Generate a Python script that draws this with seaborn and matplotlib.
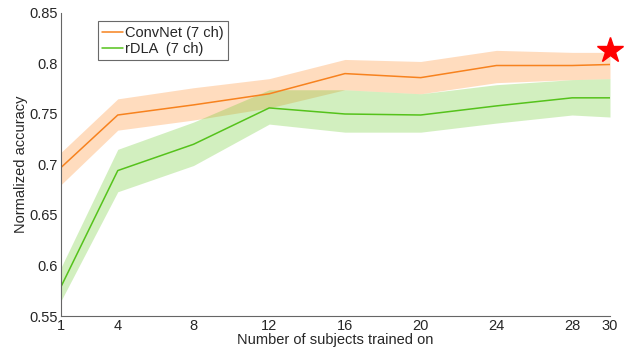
import pandas as pd
import matplotlib
matplotlib.use("Agg")
import matplotlib.pyplot as plt
import seaborn as sns

# data
n_subjects = [1, 4, 8, 12, 16, 20, 24, 28, 30]
convnet_mean = [0.697, 0.749, 0.759, 0.770, 0.790, 0.786, 0.798, 0.798, 0.799]
convnet_upper = [0.712, 0.765, 0.776, 0.785, 0.804, 0.802, 0.813, 0.811, 0.811]
convnet_lower = [0.680, 0.734, 0.744, 0.756, 0.774, 0.770, 0.781, 0.784, 0.785]
rdla_mean = [0.579, 0.694, 0.720, 0.756, 0.750, 0.749, 0.758, 0.766, 0.766]
rdla_upper = [0.598, 0.715, 0.742, 0.774, 0.774, 0.770, 0.779, 0.784, 0.785]
rdla_lower = [0.565, 0.673, 0.699, 0.740, 0.732, 0.732, 0.741, 0.749, 0.747]
best_point = (30, 0.813)

x_ticks = [1, 4, 8, 12, 16, 20, 24, 28, 30]
y_ticks = [0.55, 0.6, 0.65, 0.7, 0.75, 0.8, 0.85]
y_ticklabels = ["0.55", "0.6", "0.65", "0.7", "0.75", "0.8", "0.85"]

orange = "#F7821E"
green = "#55C21B"

sns.set_style("white")
plt.rcParams["font.family"] = ["Liberation Sans", "DejaVu Sans"]

df = pd.DataFrame({
    "n": n_subjects * 2,
    "acc": convnet_mean + rdla_mean,
    "model": ["ConvNet (7 ch)"] * len(n_subjects) + ["rDLA  (7 ch)"] * len(n_subjects),
})

fig = plt.figure(figsize=(6.32, 3.51), dpi=100)
ax = fig.add_axes([0.0965, 0.0997, 0.8687, 0.8633])

# confidence bands
ax.fill_between(n_subjects, convnet_lower, convnet_upper, color="#FF8C2A", alpha=0.3, lw=0)
ax.fill_between(n_subjects, rdla_lower, rdla_upper, color="#6CCB2E", alpha=0.3, lw=0)

sns.lineplot(data=df, x="n", y="acc", hue="model", palette=[orange, green],
             linewidth=1.1, ax=ax)

ax.plot(*best_point, marker="*", color="red", markersize=19, clip_on=False, zorder=5)

ax.set_xlim(1, 30)
ax.set_ylim(0.55, 0.85)
ax.set_xticks(x_ticks)
ax.set_yticks(y_ticks)
ax.set_yticklabels(y_ticklabels)
ax.tick_params(direction="in", length=4, color="#666666", labelsize=10.5, pad=2)
ax.set_xlabel("Number of subjects trained on", fontsize=10.5, labelpad=0)
ax.set_ylabel("Normalized accuracy", fontsize=10.5, labelpad=1)

for side in ["top", "right"]:
    ax.spines[side].set_visible(False)
for side in ["left", "bottom"]:
    ax.spines[side].set_color("#666666")
    ax.spines[side].set_linewidth(0.8)

leg = ax.legend(loc="upper left", bbox_to_anchor=(0.067, 0.972), fontsize=10.5,
                frameon=True, fancybox=False, handlelength=1.4, handletextpad=0.2,
                borderpad=0.3, labelspacing=0.15, borderaxespad=0)
leg.get_frame().set_edgecolor("#444444")
leg.get_frame().set_linewidth(0.8)

fig.savefig("out.png", dpi=100)
